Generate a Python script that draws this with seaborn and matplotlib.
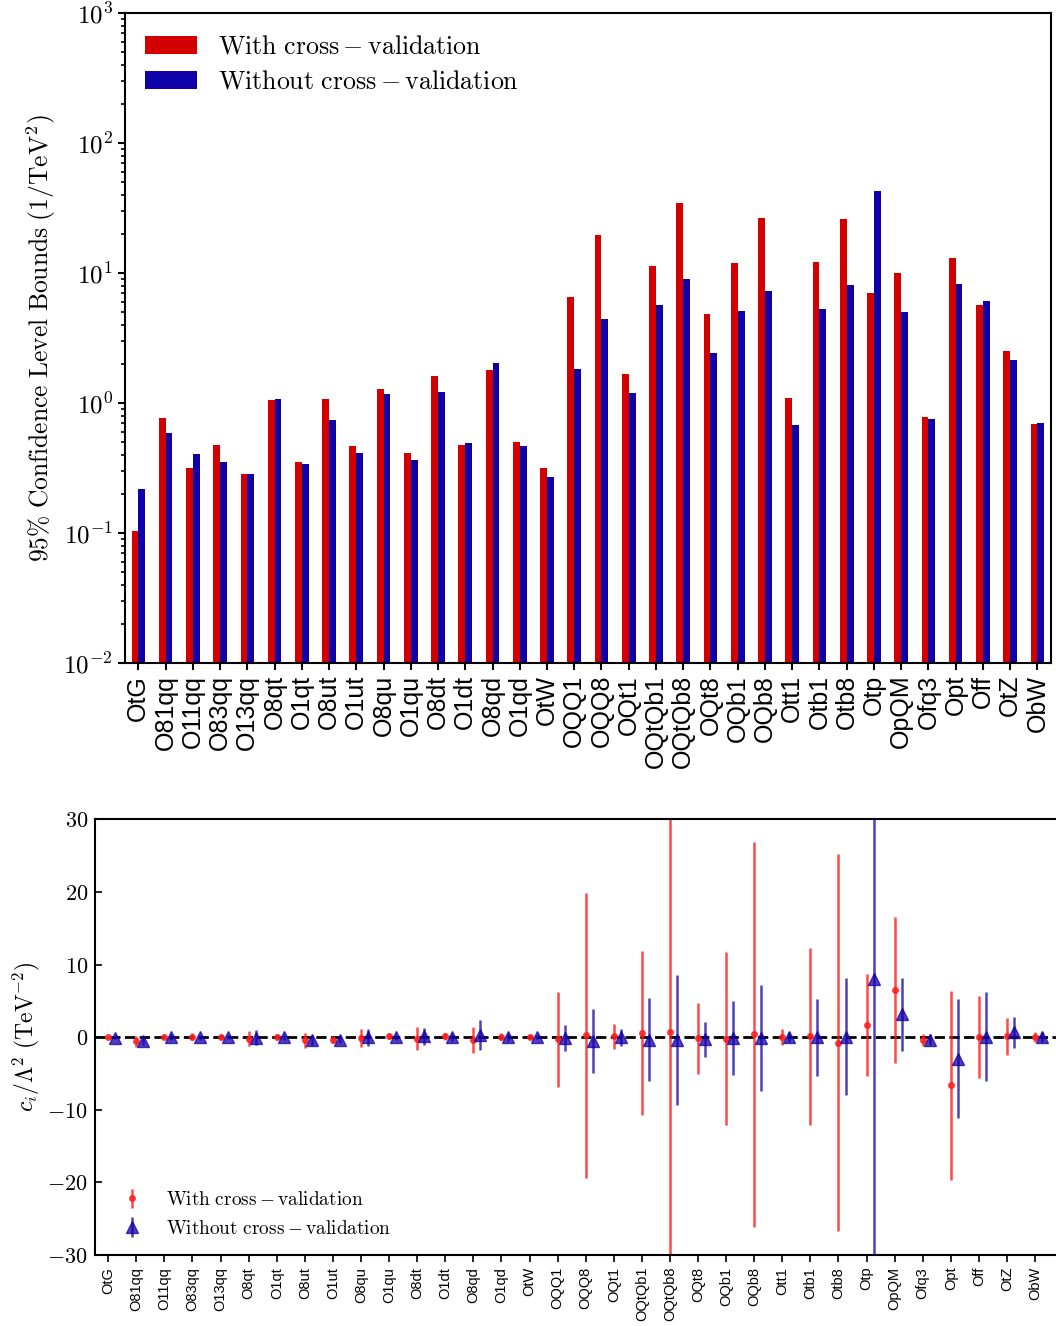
import numpy as np
import pandas as pd
import matplotlib
matplotlib.use("Agg")
import matplotlib.pyplot as plt
import seaborn as sns
from matplotlib.ticker import FuncFormatter, MultipleLocator, LogLocator

operators = ["OtG", "O81qq", "O11qq", "O83qq", "O13qq", "O8qt", "O1qt", "O8ut",
             "O1ut", "O8qu", "O1qu", "O8dt", "O1dt", "O8qd", "O1qd", "OtW",
             "OQQ1", "OQQ8", "OQt1", "OQtQb1", "OQtQb8", "OQt8", "OQb1", "OQb8",
             "Ott1", "Otb1", "Otb8", "Otp", "OpQM", "Ofq3", "Opt", "Off", "OtZ", "ObW"]

bound_cv = [0.104, 0.767, 0.316, 0.475, 0.284, 1.05, 0.351, 1.07,
            0.467, 1.28, 0.412, 1.61, 0.475, 1.79, 0.501, 0.316,
            6.53, 19.6, 1.67, 11.3, 34.5, 4.84, 11.9, 26.5,
            1.09, 12.2, 26.0, 7.02, 10.0, 0.78, 13.0, 5.67, 2.51, 0.689]

bound_nocv = [0.218, 0.588, 0.405, 0.351, 0.284, 1.07, 0.34, 0.74,
              0.412, 1.17, 0.365, 1.22, 0.492, 2.03, 0.467, 0.27,
              1.83, 4.43, 1.19, 5.67, 8.99, 2.42, 5.1, 7.27,
              0.677, 5.28, 8.09, 42.7, 5.01, 0.753, 8.22, 6.09, 2.14, 0.701]

central_cv = [0.05, -0.55, 0.05, 0.05, 0.0, -0.23, 0.05, -0.44,
              -0.35, -0.1, 0.1, -0.2, 0.1, -0.4, 0.05, 0.05,
              -0.28, 0.28, 0.1, 0.55, 0.78, -0.16, -0.23, 0.39,
              0.05, 0.1, -0.74, 1.64, 6.5, -0.37, -6.6, 0.0, 0.12, 0.0]

central_nocv = [-0.05, -0.5, 0.0, 0.0, 0.0, -0.05, 0.0, -0.4,
                -0.4, 0.0, 0.0, 0.1, 0.0, 0.27, 0.0, 0.0,
                -0.1, -0.48, 0.0, -0.34, -0.41, -0.3, -0.14, -0.07,
                0.05, 0.0, 0.07, 8.0, 3.15, -0.37, -2.97, 0.07, 0.67, 0.0]

lbl_cv = r"$\mathrm{With\ cross-validation}$"
lbl_nocv = r"$\mathrm{Without\ cross-validation}$"

plt.rcParams["mathtext.fontset"] = "cm"
plt.rcParams["axes.linewidth"] = 1.5

df = pd.DataFrame({
    "operator": operators * 2,
    "bound": bound_cv + bound_nocv,
    "methode": [lbl_cv] * len(operators) + [lbl_nocv] * len(operators),
})

fig = plt.figure(figsize=(10.56, 13.26), dpi=100)
ax1 = fig.add_axes([0.1181, 0.5, 0.8772, 0.4902])
ax2 = fig.add_axes([0.09, 0.0535, 0.912, 0.3286])

# bovenste figuur: staafdiagram met log-as
ax1.set_yscale("log")
sns.barplot(data=df, x="operator", y="bound", hue="methode", width=0.5,
            palette=["#d40000", "#1000a8"], saturation=1, errorbar=None, ax=ax1)
ax1.set_ylim(1e-2, 1e3)
ax1.set_xlim(-0.5, len(operators) - 0.5)
ax1.yaxis.set_major_locator(LogLocator(base=10))
ax1.yaxis.set_major_formatter(FuncFormatter(lambda v, p: r"$10^{%d}$" % round(np.log10(v))))
ax1.set_xlabel("")
ax1.set_ylabel(r"$95\%\ \mathrm{Confidence\ Level\ Bounds}\ (1/\mathrm{TeV}^2)$",
               fontsize=18.4)
ax1.tick_params(axis="x", labelsize=18, rotation=90, length=5, width=1.5)
ax1.tick_params(axis="y", which="major", labelsize=18, length=5, width=1.5)
ax1.tick_params(axis="y", which="minor", length=3, width=1.2)
for t in ax1.get_xticklabels():
    t.set_fontfamily("Liberation Sans")
h, l = ax1.get_legend_handles_labels()
ax1.legend(h, l, loc="upper left", frameon=False, fontsize=18.6,
           labelspacing=0.35, borderaxespad=0.4)

# onderste figuur: centrale waarden met foutbalken
x = np.arange(len(operators))
ax2.axhline(0, color="black", ls="--", lw=2, zorder=1)
ax2.errorbar(x, central_cv, yerr=bound_cv, fmt="o", color="#ff1a1a", ms=4,
             elinewidth=1.8, alpha=0.8, label=lbl_cv, zorder=2)
ax2.errorbar(x + 0.25, central_nocv, yerr=bound_nocv, fmt="^", color="#1400a8",
             ms=9, elinewidth=1.8, alpha=0.75, label=lbl_nocv, zorder=3)
ax2.set_ylim(-30, 30)
ax2.set_xlim(-0.47, 33.82)
ax2.set_xticks(x)
ax2.set_xticklabels(operators, rotation=90, fontsize=10.5, fontfamily="Liberation Sans")
ax2.yaxis.set_major_locator(MultipleLocator(10))
ax2.yaxis.set_major_formatter(FuncFormatter(lambda v, p: r"$%d$" % v))
ax2.tick_params(axis="y", direction="in", labelsize=16, length=5, width=1.2, pad=5)
ax2.tick_params(axis="x", direction="out", length=5, width=1.2)
ax2.set_ylabel(r"$c_i/\Lambda^2\ (\mathrm{TeV}^{-2})$", fontsize=17)
ax2.legend(loc="lower left", frameon=False, fontsize=13.9)

plt.savefig("out.png", dpi=100)
